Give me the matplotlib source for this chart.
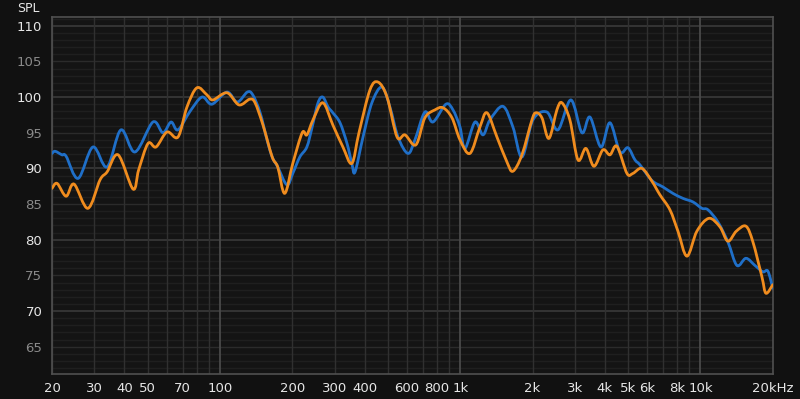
import numpy as np
import matplotlib
matplotlib.use("Agg")
import matplotlib.pyplot as plt
from matplotlib.path import Path
from matplotlib.patches import PathPatch
from matplotlib.ticker import FixedLocator, NullFormatter

# blue measurement (Hz, dB SPL)
blue_freq = [20, 20.6, 22.0, 22.9, 25.7, 29.6, 33.9, 38.7, 44.3, 52.6, 57.9, 62.6,
             66.9, 75.1, 84.2, 92.6, 107, 118, 130, 137, 147, 157, 165, 174, 190,
             201, 215, 230, 242, 256, 268, 282, 295, 316, 338, 354, 365, 394, 429,
             472, 510, 551, 606, 648, 713, 770, 872, 933, 998, 1047, 1152, 1244,
             1330, 1506, 1657, 1807, 2008, 2295, 2551, 2889, 3211, 3467, 3852, 4199,
             4620, 4990, 5336, 5598, 6280, 6979, 7681, 8453, 9303, 10140, 10741,
             11817, 13007, 14177, 15460, 16847, 18193, 19081, 20000]
blue_spl = [92.1, 92.4, 91.9, 91.7, 88.6, 93.0, 90.2, 95.4, 92.3, 96.5, 95.0, 96.5,
            95.4, 98.0, 100.0, 99.0, 100.7, 99.3, 100.7, 100.3, 97.8, 94.0, 91.6, 90.2,
            87.7, 89.3, 91.6, 93.0, 95.8, 99.2, 100.0, 98.6, 97.8, 96.4, 93.5, 90.7,
            89.5, 94.4, 99.2, 101.4, 98.6, 94.4, 92.1, 94.0, 97.9, 96.5, 99.0, 98.2,
            95.8, 92.8, 96.5, 94.7, 96.8, 98.7, 95.8, 91.6, 96.8, 97.9, 95.4, 99.6,
            95.0, 97.2, 93.0, 96.4, 92.3, 92.9, 91.2, 90.5, 88.3, 87.4, 86.5, 85.8,
            85.3, 84.4, 84.2, 82.5, 79.7, 76.4, 77.4, 76.4, 75.5, 75.6, 73.2]

# orange measurement (Hz, dB SPL)
orange_freq = [20, 21.0, 22.9, 24.7, 28.2, 31.7, 33.9, 37.7, 43.5, 45.9, 50.2, 54.2,
               60.2, 66.9, 72.9, 80.2, 88.3, 93.5, 107, 120, 133, 140, 151, 165, 174,
               186, 201, 220, 230, 244, 268, 295, 325, 354, 379, 421, 455, 496, 546,
               589, 654, 713, 785, 848, 924, 998, 1098, 1208, 1292, 1422, 1565, 1657,
               1807, 1989, 2066, 2188, 2340, 2526, 2650, 2860, 3090, 3336, 3602, 3926,
               4199, 4490, 4943, 5234, 5706, 6280, 6780, 7462, 8058, 8784, 9664,
               10844, 12052, 13007, 14100, 15460, 16528, 18018, 18724, 20000]
orange_spl = [87.2, 87.9, 86.1, 87.8, 84.4, 88.4, 89.5, 91.9, 87.1, 89.8, 93.5, 93.0,
              95.1, 94.4, 98.6, 101.3, 100.3, 99.6, 100.6, 98.9, 99.7, 99.2, 96.1, 91.6,
              90.2, 86.5, 90.7, 95.0, 94.7, 96.8, 99.2, 96.1, 93.0, 90.7, 95.0, 101.0,
              102.1, 100.0, 94.4, 94.7, 93.3, 97.1, 98.2, 98.5, 97.1, 94.0, 92.1, 95.8,
              97.8, 94.4, 90.9, 89.6, 91.9, 96.8, 97.8, 97.1, 94.2, 98.2, 99.2, 96.8,
              91.2, 92.8, 90.3, 92.6, 91.9, 93.1, 89.3, 89.3, 90.0, 88.2, 86.3, 84.2,
              81.2, 77.7, 81.2, 83.0, 81.8, 79.8, 81.2, 81.9, 79.7, 74.8, 72.5, 73.7]

xtick_vals = [20, 30, 40, 50, 70, 100, 200, 300, 400, 600, 800, 1000,
              2000, 3000, 4000, 5000, 6000, 8000, 10000, 20000]
xtick_labels = ["20", "30", "40", "50", "70", "100", "200", "300", "400", "600",
                "800", "1k", "2k", "3k", "4k", "5k", "6k", "8k", "10k", "20kHz"]
ytick_vals = [65, 70, 75, 80, 85, 90, 95, 100, 105, 110]


def smooth_path(freq, spl):
    # catmull-rom through the read points, done in log-frequency space
    p = np.column_stack([np.log10(freq), spl])
    pe = np.vstack([p[0], p, p[-1]])
    verts = [p[0]]
    codes = [Path.MOVETO]
    for i in range(len(p) - 1):
        p0, p1, p2, p3 = pe[i], pe[i + 1], pe[i + 2], pe[i + 3]
        verts += [p1 + (p2 - p0) / 6, p2 - (p3 - p1) / 6, p2]
        codes += [Path.CURVE4] * 3
    verts = np.array(verts)
    verts[:, 0] = 10 ** verts[:, 0]
    return Path(verts, codes)


bg = "#111111"
fig = plt.figure(figsize=(8.0, 3.99), dpi=100, facecolor=bg)
ax = fig.add_axes([0.065, 0.063, 0.901, 0.894], facecolor="#141414")
ax.set_xscale("log")
ax.set_xlim(20, 20000)
ax.set_ylim(61.2, 111.2)

# grid
for v in range(62, 112):
    if v % 10 == 0:
        c, lw = "#3a3a3a", 1.2
    elif v % 5 == 0:
        c, lw = "#2b2b2b", 1.0
    else:
        c, lw = "#1f1f1f", 1.0
    ax.axhline(v, color=c, lw=lw, zorder=1)
for dec in [10, 100, 1000, 10000]:
    for m in range(1, 10):
        f = dec * m
        if f < 20 or f > 20000:
            continue
        if m == 1 and dec > 10:
            c, lw = "#4a4a4a", 1.3
        else:
            c, lw = "#303030", 1.0
        ax.axvline(f, color=c, lw=lw, zorder=1)

for fr, sp, col, z in [(blue_freq, blue_spl, "#1f6fc8", 3),
                       (orange_freq, orange_spl, "#f08c1e", 4)]:
    ax.add_patch(PathPatch(smooth_path(fr, sp), fill=False, edgecolor=col,
                           lw=2.0, zorder=z, joinstyle="round", capstyle="round"))

for s in ax.spines.values():
    s.set_color("#505050")
    s.set_linewidth(1.2)

ax.xaxis.set_major_locator(FixedLocator(xtick_vals))
ax.set_xticklabels(xtick_labels)
ax.xaxis.set_minor_formatter(NullFormatter())
ax.tick_params(axis="x", which="both", length=0, pad=6, labelsize=9.5, colors="#e6e6e6")
ax.set_yticks(ytick_vals)
ax.tick_params(axis="y", length=0, pad=7, labelsize=9.5)
for lab, v in zip(ax.get_yticklabels(), ytick_vals):
    lab.set_color("#e6e6e6" if v % 10 == 0 else "#8a8a8a")

fig.text(0.035, 0.978, "SPL", color="#e6e6e6", fontsize=9, ha="center", va="center")

fig.savefig("out.png", dpi=100, facecolor=bg)
